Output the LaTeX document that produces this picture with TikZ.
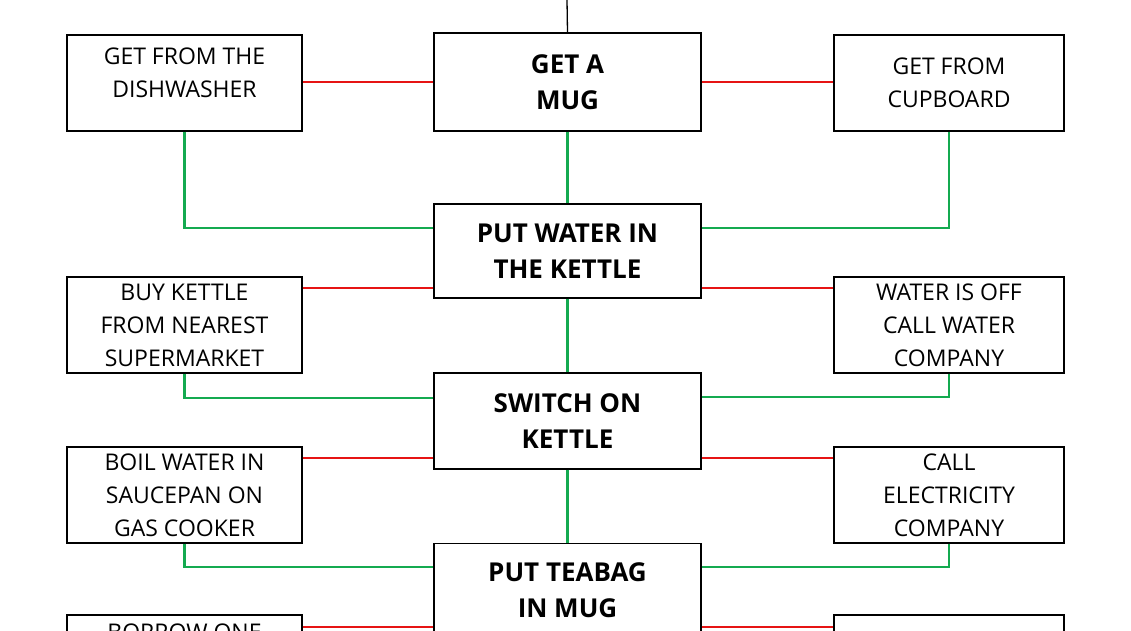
\documentclass[tikz,border=0pt]{standalone}
\usepackage{fontspec}
\setmainfont{Open Sans}
\begin{document}
\begin{tikzpicture}[x=1pt,y=-1pt,
  box/.style={draw,line width=1.3pt,minimum width=#1,inner sep=0pt,align=center},
  side/.style={box=235pt,minimum height=96pt,font=\fontsize{23}{33}\selectfont},
  rside/.style={side,minimum width=230pt},
  mid/.style={box=267pt,font=\bfseries\fontsize{26}{36}\selectfont},
  lbl/.style={align=center,inner sep=0pt},
  red/.style={draw={rgb,255:red,230;green,20;blue,20},line width=2.2pt},
  grn/.style={draw={rgb,255:red,20;green,170;blue,80},line width=2.2pt}]
\useasboundingbox (0,0) rectangle (1131,630);
\clip (0,0) rectangle (1131,630);
\node[mid,minimum height=98pt] (m1) at (567.5,82) {GET A\\MUG};
\node[mid,minimum height=94pt] (m2) at (567.5,251) {PUT WATER IN\\THE KETTLE};
\node[mid,minimum height=96pt] (m3) at (567.5,421) {SWITCH ON\\KETTLE};
\node[mid,minimum height=140pt,anchor=north] (m4) at (567.5,543) {};
\node[lbl,font=\bfseries\fontsize{26}{36}\selectfont] (m4t) at (567.5,590) {PUT TEABAG\\IN MUG};
\node[side] (l1) at (184.5,83) {};
\node[lbl,font=\fontsize{23}{33}\selectfont] (l1t) at (184.5,73) {GET FROM THE\\DISHWASHER};
\node[rside] (r1) at (949,83) {GET FROM\\CUPBOARD};
\node[side] (l2) at (184.5,325) {BUY KETTLE\\FROM NEAREST\\SUPERMARKET};
\node[rside] (r2) at (949,325) {WATER IS OFF\\CALL WATER\\COMPANY};
\node[side] (l3) at (184.5,495) {BOIL WATER IN\\SAUCEPAN ON\\GAS COOKER};
\node[rside] (r3) at (949,495) {CALL\\ELECTRICITY\\COMPANY};
\node[side] (l4) at (184.5,663) {};
\node[font=\fontsize{23}{33}\selectfont,anchor=base] (l4t) at (184.5,640) {BORROW ONE};
\node[rside] (r4) at (949,663) {};
\coordinate (top) at (567,0);
\draw[line width=1.3pt] (top) -- (m1.north);
\foreach \a/\b/\y in {l1/m1/82,m1/r1/82,l2/m2/288,m2/r2/288,l3/m3/458,m3/r3/458,l4/m4/627,m4/r4/627}
  \draw[red] (\a.east|-0,\y) -- (\b.west|-0,\y);
\draw[grn] (m1) -- (m2); \draw[grn] (m2) -- (m3); \draw[grn] (m3) -- (m4);
\draw[grn] (l1.south) |- (m2.west|-0,228);
\draw[grn] (r1.south) |- (m2.east|-0,228);
\draw[grn] (l2.south) |- (m3.west|-0,398);
\draw[grn] (r2.south) |- (m3.east|-0,397);
\draw[grn] (l3.south) |- (m4.west|-0,567);
\draw[grn] (r3.south) |- (m4.east|-0,567);
\end{tikzpicture}
\end{document}
